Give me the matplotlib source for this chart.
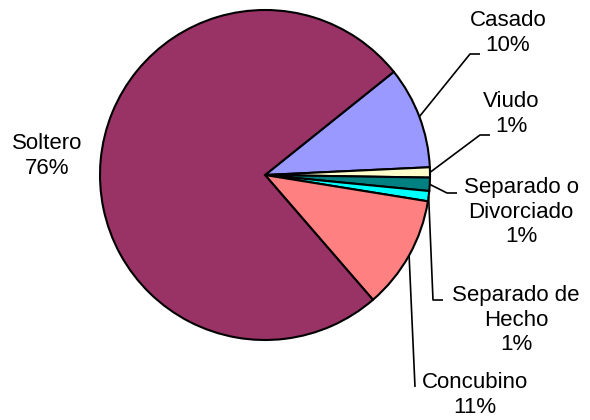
import numpy as np
import matplotlib.pyplot as plt

plt.rcParams['font.family'] = ['Liberation Sans', 'DejaVu Sans']

# datos (porcentajes, sentido horario desde Casado)
estados = ['Casado', 'Viudo', 'Separado o\nDivorciado', 'Separado de\nHecho', 'Concubino', 'Soltero']
valores = [10.0, 1.0, 1.3, 1.0, 11.1, 75.6]
colores = ['#9999FF', '#FFFFCC', '#008080', '#00FFFF', '#FF8080', '#993366']

W, H = 590, 420
cx, cy, r = 265, H - 175, 165

fig = plt.figure(figsize=(5.9, 4.2), dpi=100)
ax = fig.add_axes([0, 0, 1, 1])
wedges, _ = ax.pie(valores, colors=colores, startangle=38.7, counterclock=False,
                   center=(cx, cy), radius=r,
                   wedgeprops=dict(edgecolor='black', linewidth=1.5))
ax.set_xlim(0, W)
ax.set_ylim(0, H)
ax.set_aspect('equal')
ax.axis('off')

# posicion de etiquetas (pixeles desde arriba) y quiebres de la linea guia
texto_pos = [(508, 33), (511, 114), (521, 212), (516, 320), (475, 395), (47, 156)]
guias = [[(470, 54), (480, 54)],
         [(480, 135), (490, 135)],
         [(447, 193), (457, 193)],
         [(433, 300), (443, 300)],
         [(415, 387)],
         None]

for w, nombre, v, (tx, ty), g in zip(wedges, estados, valores, texto_pos, guias):
    pct = '%d%%' % round(v)
    ax.text(tx, H - ty, nombre + '\n' + pct, ha='center', va='center', fontsize=16)
    if g is None:
        continue
    ang = np.deg2rad((w.theta1 + w.theta2) / 2)
    px = [cx + r * np.cos(ang)] + [p[0] for p in g]
    py = [cy + r * np.sin(ang)] + [H - p[1] for p in g]
    ax.plot(px, py, color='black', linewidth=1.2, solid_capstyle='butt')

plt.savefig('out.png', dpi=100)
